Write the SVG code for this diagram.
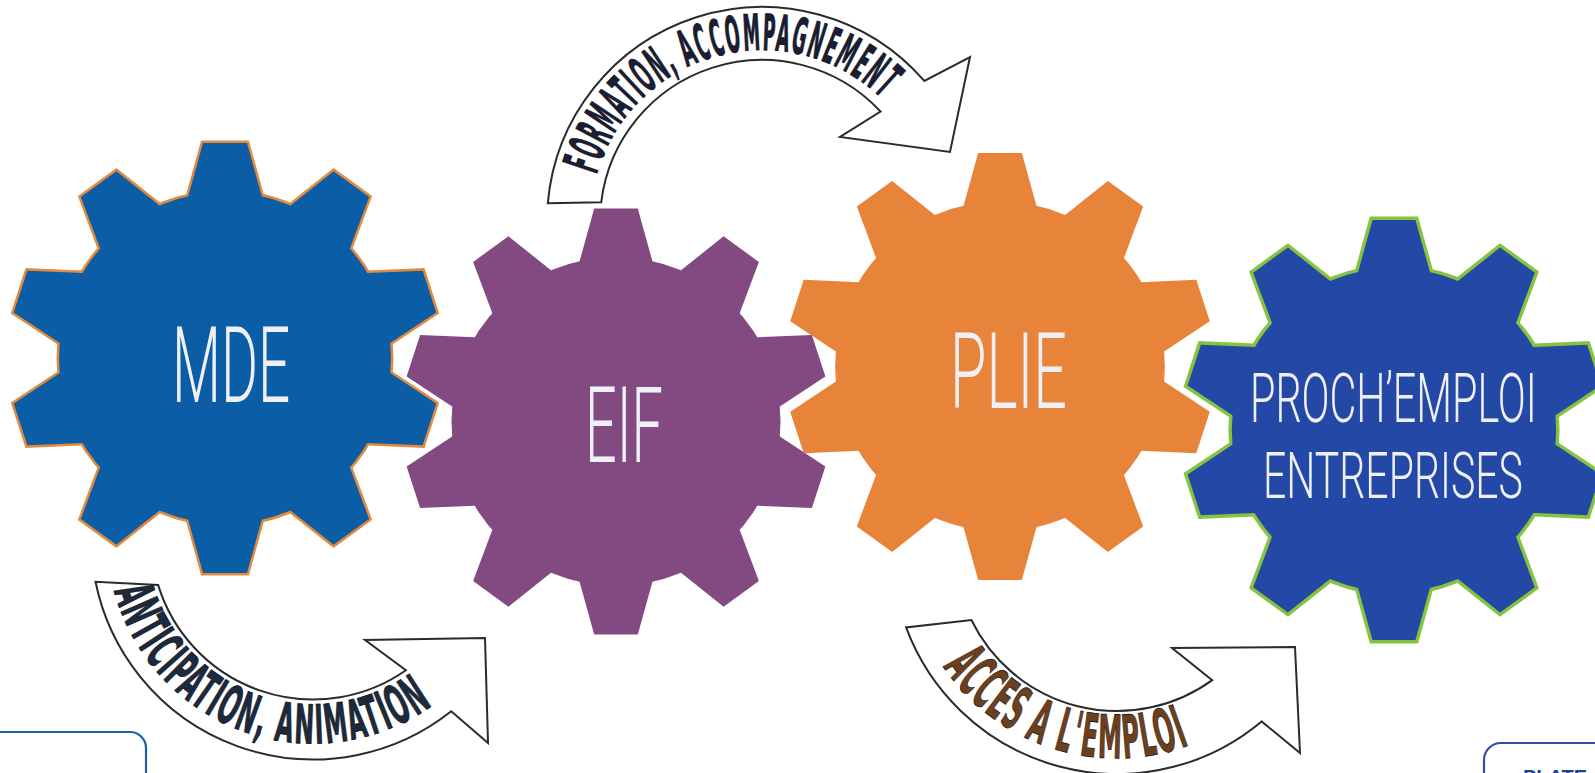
<svg xmlns="http://www.w3.org/2000/svg" xmlns:xlink="http://www.w3.org/1999/xlink" width="1595" height="773" viewBox="0 0 1595 773">
<style>
.lbl{font-family:Roboto,"Liberation Sans",sans-serif;font-weight:300;fill:#eef0f5}
.arrow{fill:#fff;stroke:#2b2b2b;stroke-width:2;stroke-linejoin:miter}
.alab{font-family:"DejaVu Sans","Liberation Sans",sans-serif;font-stretch:condensed;font-weight:bold;stroke-width:0.8;stroke-linejoin:round;letter-spacing:0.08em}
.box{fill:none;stroke-width:2.2}
</style>
<defs>
  <path id="tooth" d="M-22,-215 L22,-215 L40,-150 L-40,-150 Z"/>
  <g id="gearBase">
    <circle r="166"/>
    <use href="#tooth"/>
    <use href="#tooth" transform="rotate(36)"/>
    <use href="#tooth" transform="rotate(72)"/>
    <use href="#tooth" transform="rotate(108)"/>
    <use href="#tooth" transform="rotate(144)"/>
    <use href="#tooth" transform="rotate(180)"/>
    <use href="#tooth" transform="rotate(216)"/>
    <use href="#tooth" transform="rotate(252)"/>
    <use href="#tooth" transform="rotate(288)"/>
    <use href="#tooth" transform="rotate(324)"/>
  </g>
  <path id="tp1" d="M596.7,174.6 A172,172 0 0 1 883.6,100.4"/>
  <path id="tp2" d="M114.0,590.8 A206,206 0 0 0 434.1,704.2"/>
  <path id="tp3" d="M943.0,666.5 A209,209 0 0 0 1192,744"/>
</defs>
<rect width="1595" height="773" fill="#fff"/>

<g id="node-mde">
  <use href="#gearBase" transform="translate(225,358)" fill="#e38a3e" stroke="#e38a3e" stroke-width="5"/>
  <use href="#gearBase" transform="translate(225,358)" fill="#0b5ea5"/>
  <text class="lbl" transform="translate(172,402) scale(0.6,1)" font-size="105" textLength="197" lengthAdjust="spacingAndGlyphs">MDE</text>
</g>

<g id="node-eif">
  <use href="#gearBase" transform="translate(616,421.5) scale(0.991)" fill="#834a82"/>
  <text class="lbl" transform="translate(585,462) scale(0.6,1)" font-size="105" textLength="130" lengthAdjust="spacingAndGlyphs">EIF</text>
</g>

<g id="node-plie">
  <use href="#gearBase" transform="translate(1000,366.5) scale(0.993)" fill="#e8833a"/>
  <text class="lbl" transform="translate(950,408) scale(0.6,1)" font-size="105" textLength="195" lengthAdjust="spacingAndGlyphs">PLIE</text>
</g>

<g id="node-proch">
  <use href="#gearBase" transform="translate(1394,430) scale(0.977)" fill="#86c440" stroke="#86c440" stroke-width="7"/>
  <use href="#gearBase" transform="translate(1394,430) scale(0.977)" fill="#2448a6"/>
  <text class="lbl" transform="translate(1250,422) scale(0.6,1)" font-size="69" textLength="478" lengthAdjust="spacingAndGlyphs">PROCH’EMPLOI</text>
  <text class="lbl" transform="translate(1263,498) scale(0.6,1)" font-size="64" textLength="433" lengthAdjust="spacingAndGlyphs">ENTREPRISES</text>
</g>

<g id="connectors">
  <g id="arrow-formation">
    <path class="arrow" d="M547.8,203.3 A215,215 0 0 1 924.3,80.9 L970,57 L950,152 L840,137 L880.5,111.5 A162,162 0 0 0 601.2,202.3 Z"/>
    <text class="alab" font-size="50" fill="#1a1d33" stroke="#0d0d15"><textPath href="#tp1" textLength="355" lengthAdjust="spacingAndGlyphs">FORMATION, ACCOMPAGNEMENT</textPath></text>
  </g>
  <g id="arrow-anticipation">
    <path class="arrow" d="M95.5,581.8 A222,222 0 0 0 451.2,711.2 L488,743 L485,638 L365,640 L405.9,670.2 A162,162 0 0 1 158.1,584.9 Z"/>
    <text class="alab" font-size="54" fill="#1d2a3c" stroke="#0d0d15"><textPath href="#tp2" textLength="399" lengthAdjust="spacingAndGlyphs">ANTICIPATION, ANIMATION</textPath></text>
  </g>
  <g id="arrow-acces">
    <path class="arrow" d="M906.1,627.4 A225,225 0 0 0 1261.6,721.4 L1300,753 L1295,647 L1172,648 L1212.2,680.1 A162,162 0 0 1 971.4,620 Z"/>
    <text class="alab" font-size="60" fill="#6a4020" stroke="#1a1008"><textPath href="#tp3" textLength="281" lengthAdjust="spacingAndGlyphs">ACCES A L'EMPLOI</textPath></text>
  </g>
</g>

<rect class="box" x="-20" y="732" width="166" height="80" rx="16" stroke="#1f5fa8"/>
<rect class="box" x="1484" y="743" width="140" height="80" rx="17" stroke="#2a4fa8"/>
<text x="1523" y="784" font-family="Liberation Sans, Arial, sans-serif" font-weight="bold" font-size="20" fill="#1f3f9a">PLATE</text>
</svg>
